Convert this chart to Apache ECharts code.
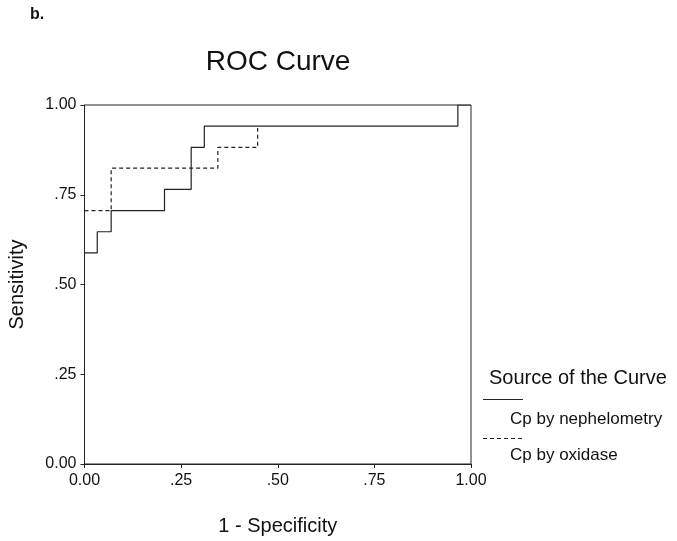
<!DOCTYPE html>
<html><head><meta charset="utf-8">
<script src="https://cdn.jsdelivr.net/npm/echarts@6/dist/echarts.min.js"></script>
<style>html,body{margin:0;padding:0;background:#fff}#c{width:677px;height:541px}</style>
</head><body><div id="c"></div>
<script>
const tickLabels = ['0.00', '.25', '.50', '.75', '1.00'];
const nephFpr  = [0, 0.033, 0.069, 0.207, 0.276, 0.310, 0.966, 1.0];
const nephSens = [0.588, 0.647, 0.706, 0.765, 0.882, 0.941, 1.0, 1.0];
const oxFpr  = [0, 0.069, 0.345, 0.448];
const oxSens = [0.706, 0.824, 0.882, 0.936];
const seriesNames = ['Cp by nephelometry', 'Cp by oxidase'];

const FONT = '"Liberation Sans", Arial, sans-serif';
const INK = '#222';
const fmt = v => tickLabels[Math.round(v / 0.25)];
const chart = echarts.init(document.getElementById('c'));
const axisCommon = {
  type: 'value', min: 0, max: 1, interval: 0.25,
  axisLine: {show: true, lineStyle: {color: INK, width: 1}},
  axisTick: {show: true, length: 4, lineStyle: {color: INK}},
  splitLine: {show: false},
  axisLabel: {formatter: fmt, color: '#111', fontSize: 16, fontFamily: FONT},
  nameLocation: 'middle',
  nameTextStyle: {color: '#111', fontSize: 20, fontFamily: FONT}
};
chart.setOption({
  animation: false,
  grid: {left: 84.5, right: 206, top: 105, bottom: 77, show: true, borderColor: INK, borderWidth: 1,
         backgroundColor: 'transparent', containLabel: false, outerBoundsMode: 'none'},
  xAxis: Object.assign({}, axisCommon, {name: '1 - Specificity', nameGap: 52,
    axisLabel: Object.assign({}, axisCommon.axisLabel, {margin: 9})}),
  yAxis: Object.assign({}, axisCommon, {name: 'Sensitivity', nameGap: 57,
    axisLabel: Object.assign({}, axisCommon.axisLabel, {margin: 8})}),
  series: [
    {name: seriesNames[0], type: 'line', step: 'end', showSymbol: false,
     data: nephFpr.map((x, i) => [x, nephSens[i]]),
     lineStyle: {color: INK, width: 1.2}, z: 3},
    {name: seriesNames[1], type: 'line', step: 'end', showSymbol: false,
     data: oxFpr.map((x, i) => [x, oxSens[i]]),
     lineStyle: {color: INK, width: 1.2, type: [4, 3]}, z: 2}
  ],
  graphic: [
    {type: 'text', left: 30, top: 7, style: {text: 'b.', font: 'bold 16px ' + FONT, fill: '#111'}},
    {type: 'text', x: 278, y: 62, style: {text: 'ROC Curve', font: '28px ' + FONT, fill: '#111', align: 'center', verticalAlign: 'middle'}},
    {type: 'text', x: 489, y: 378, style: {text: 'Source of the Curve', font: '20px ' + FONT, fill: '#111', verticalAlign: 'middle'}},
    {type: 'line', shape: {x1: 483, y1: 399.5, x2: 523, y2: 399.5}, style: {stroke: INK, lineWidth: 1.2}},
    {type: 'text', x: 510, y: 419, style: {text: seriesNames[0], font: '17px ' + FONT, fill: '#111', verticalAlign: 'middle'}},
    {type: 'line', shape: {x1: 483, y1: 438.5, x2: 523, y2: 438.5}, style: {stroke: INK, lineWidth: 1.2, lineDash: [4, 3]}},
    {type: 'text', x: 510, y: 455, style: {text: seriesNames[1], font: '17px ' + FONT, fill: '#111', verticalAlign: 'middle'}}
  ]
});
</script></body></html>
